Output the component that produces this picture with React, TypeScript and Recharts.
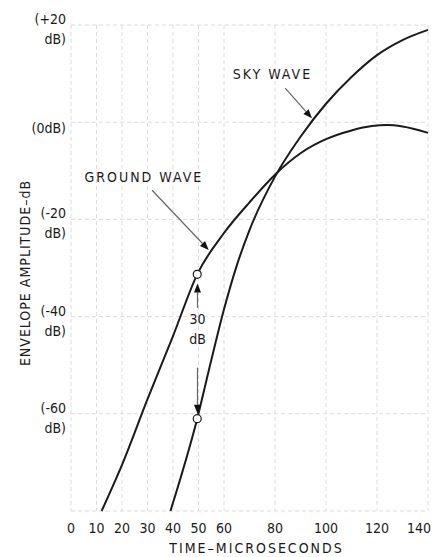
import React from 'react';
import { LineChart, Line, XAxis, YAxis, CartesianGrid, ReferenceDot, ReferenceLine, Label } from 'recharts';

// ground wave (microseconds, dB)
const groundTime = [12, 20, 30, 40, 49.5, 60, 70, 80, 90, 100, 110, 118, 124, 130, 140];
const groundDb = [-80, -70.5, -57, -44, -31.3, -22.8, -16.5, -10.8, -6.4, -3.5, -1.7, -0.8, -0.6, -0.9, -2.2];

// sky wave
const skyTime = [39, 49.5, 55, 60, 65, 70, 80, 90, 100, 110, 120, 130, 140];
const skyDb = [-80, -61, -49, -38.5, -29.5, -22.2, -11.2, -3, 3.8, 9.3, 13.8, 16.9, 19];

// the two open circles 30 dB apart
const markerTime = [49.5, 49.5];
const markerDb = [-31.3, -61];

const xTicks = [0, 10, 20, 30, 40, 50, 60, 80, 100, 120, 140];
const yTicks = [-80, -60, -40, -20, 0, 20];
const yTickValues = [20, 0, -20, -40, -60];
const yTickLines = [['(+20', 'dB)'], ['(0dB)'], ['(-20', 'dB)'], ['(-40', 'dB)'], ['(-60', 'dB)']];

const noteText = ['SKY WAVE', 'GROUND WAVE', '30', 'dB'];
const noteTime = [79, 28.6, 49.6, 49.6];
const noteDb = [10, -11.3, -40.4, -44.6];

const arrowFrom = [[84, 7], [31.8, -14], [49.6, -38.2], [49.6, -50.5]];
const arrowTo = [[94.5, 0.8], [54, -26.3], [49.6, -33.2], [49.6, -60]];

const groundData = groundTime.map((t, i) => ({ t, db: groundDb[i] }));
const skyData = skyTime.map((t, i) => ({ t, db: skyDb[i] }));

const FONT = '"Liberation Sans Narrow", "DejaVu Sans Condensed", "Liberation Sans", sans-serif';
const INK = '#1a1a1a';

const XTick = (props: any) => {
  const { x, y, payload } = props;
  const dx = payload.value === 140 ? -9 : 0;
  return (
    <text x={x + dx} y={y} dy="0.71em" textAnchor="middle" fontFamily={FONT} fontSize={14} fill={INK}>
      {payload.value}
    </text>
  );
};

const YTick = (props: any) => {
  const { x, y, payload } = props;
  const i = yTickValues.indexOf(payload.value);
  if (i < 0) return null;
  const lines = yTickLines[i];
  const base = lines.length === 1 ? y + 11 : y - 1;
  return (
    <text textAnchor="end" fontFamily={FONT} fontSize={14} fill={INK}>
      {lines.map((l, k) => (
        <tspan key={k} x={x} y={base + k * 20}>
          {l}
        </tspan>
      ))}
    </text>
  );
};

const Arrow = (props: any) => {
  const { x1, y1, x2, y2 } = props;
  const ang = Math.atan2(y2 - y1, x2 - x1);
  const len = 9;
  const w = 3.5;
  const bx = x2 - len * Math.cos(ang);
  const by = y2 - len * Math.sin(ang);
  const px = -Math.sin(ang) * w;
  const py = Math.cos(ang) * w;
  return (
    <g>
      <line x1={x1} y1={y1} x2={bx} y2={by} stroke="#666" strokeWidth={1.2} />
      <polygon points={`${x2},${y2} ${bx + px},${by + py} ${bx - px},${by - py}`} fill="#111" />
    </g>
  );
};

export default function App() {
  return (
    <LineChart width={433} height={549} margin={{ top: 17, right: 13, left: 0, bottom: 0 }}>
      <CartesianGrid stroke="#e0dada" strokeDasharray="4 3" />
      <XAxis
        type="number"
        dataKey="t"
        domain={[0, 140]}
        ticks={xTicks}
        allowDuplicatedCategory={false}
        axisLine={false}
        tickLine={false}
        tickSize={0}
        tickMargin={12}
        height={46}
        tick={<XTick />}
      >
        <Label
          value="TIME–MICROSECONDS"
          position="insideBottom"
          offset={4}
          dx={7}
          style={{ fontFamily: FONT, fontSize: 14, fill: INK, letterSpacing: 2 }}
        />
      </XAxis>
      <YAxis
        type="number"
        dataKey="db"
        domain={[-80, 20]}
        ticks={yTicks}
        axisLine={false}
        tickLine={false}
        tickSize={0}
        tickMargin={5}
        width={63}
        tick={<YTick />}
      >
        <Label
          content={(p: any) => {
            const vb = p.viewBox;
            const cx = vb.x + 17;
            const cy = vb.y + vb.height / 2 + 5;
            return (
              <text
                x={cx}
                y={cy}
                transform={`rotate(-90 ${cx} ${cy})`}
                textAnchor="middle"
                dominantBaseline="central"
                fontFamily={FONT}
                fontSize={14}
                fill={INK}
                letterSpacing={1}
              >
                ENVELOPE AMPLITUDE–dB
              </text>
            );
          }}
        />
      </YAxis>
      <Line data={groundData} dataKey="db" type="monotone" stroke={INK} strokeWidth={2} dot={false} isAnimationActive={false} />
      <Line data={skyData} dataKey="db" type="monotone" stroke={INK} strokeWidth={2} dot={false} isAnimationActive={false} />
      {arrowFrom.map((f, i) => (
        <ReferenceLine
          key={'a' + i}
          segment={[
            { x: f[0], y: f[1] },
            { x: arrowTo[i][0], y: arrowTo[i][1] },
          ]}
          shape={<Arrow />}
        />
      ))}
      {markerTime.map((t, i) => (
        <ReferenceDot key={'m' + i} x={t} y={markerDb[i]} r={4} fill="#fff" stroke={INK} strokeWidth={1.2} />
      ))}
      {noteText.map((s, i) => (
        <ReferenceDot
          key={'n' + i}
          x={noteTime[i]}
          y={noteDb[i]}
          shape={(p: any) => (
            <text
              x={p.cx}
              y={p.cy}
              textAnchor="middle"
              dominantBaseline="central"
              fontFamily={FONT}
              fontSize={14}
              fill={INK}
              letterSpacing={i < 2 ? 2 : 0}
            >
              {s}
            </text>
          )}
        />
      ))}
    </LineChart>
  );
}
